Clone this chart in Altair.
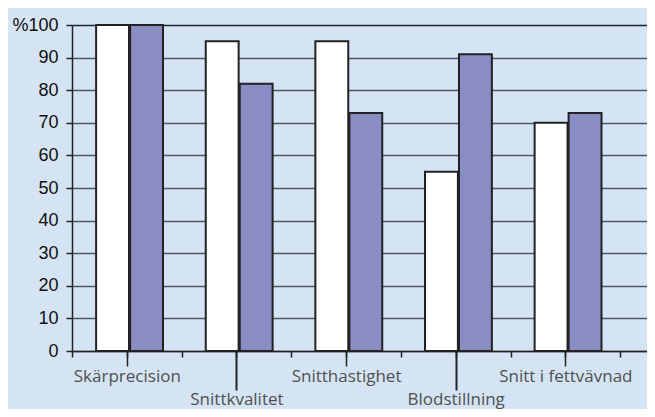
import altair as alt
import pandas as pd

categories = ["Skärprecision", "Snittkvalitet", "Snitthastighet", "Blodstillning", "Snitt i fettvävnad"]
series_white = [100, 95, 95, 55, 70]
series_purple = [100, 82, 73, 91, 73]
y_ticks = [0, 10, 20, 30, 40, 50, 60, 70, 80, 90, 100]
minor_ticks = [0, 1, 2, 3, 4, 5, 6, 7, 8, 9, 10]
upper_label_ticks = [1, 5, 9]
lower_label_ticks = [3, 7]

rows = []
for i, cat in enumerate(categories):
    rows.append({"cat": cat, "idx": i, "series": "A", "value": series_white[i]})
    rows.append({"cat": cat, "idx": i, "series": "B", "value": series_purple[i]})
df = pd.DataFrame(rows)

label_df = pd.DataFrame({"pos": [2 * i + 1 for i in range(len(categories))], "label": categories})

cat_js = "[" + ",".join("'" + c + "'" for c in categories) + "]"
label_expr = cat_js + "[(datum.value - 1) / 2]"

xscale = alt.Scale(domain=[0, 10.49], nice=False, zero=False)
dark = "#222222"
label_font = "Open Sans"
label_color = "#505050"

bars = alt.Chart(df).transform_calculate(
    center="2 * datum.idx + 1"
).transform_calculate(
    x0="datum.center + (datum.series == 'A' ? -0.56 : 0.06)",
    base="0"
).transform_calculate(
    x1="datum.x0 + 0.6"
).mark_bar(stroke=dark, strokeWidth=2).encode(
    x=alt.X("x0:Q", scale=xscale,
            axis=alt.Axis(orient="bottom", values=minor_ticks, labels=False, title=None,
                          grid=False, tickSize=6, tickColor=dark, tickWidth=1.5,
                          domainColor=dark, domainWidth=1.5)),
    x2="x1:Q",
    y=alt.Y("value:Q", scale=alt.Scale(domain=[0, 100], nice=False),
            axis=alt.Axis(values=y_ticks, title=None, tickSize=6, tickColor=dark, tickWidth=1.5,
                          domainColor=dark, domainWidth=1.5,
                          labelFont="Liberation Sans", labelFontSize=18, labelColor="#111111",
                          labelPadding=8,
                          labelExpr="datum.value == 100 ? '%100' : datum.label",
                          gridColor={"condition": {"test": "datum.value === 100", "value": "#1a2530"},
                                     "value": "#4e5862"},
                          gridWidth=1.5)),
    y2="base:Q",
    color=alt.Color("series:N", scale=alt.Scale(domain=["A", "B"], range=["#ffffff", "#8a8cc4"]),
                    legend=None),
)

upper = alt.Chart(label_df).mark_point(opacity=0).encode(
    x=alt.X("pos:Q", scale=xscale,
            axis=alt.Axis(orient="bottom", values=upper_label_ticks, title=None, grid=False,
                          domain=False, tickSize=15, tickColor=dark, tickWidth=1.5,
                          labelExpr=label_expr, labelFont=label_font, labelFontSize=17,
                          labelColor=label_color, labelPadding=2, labelOverlap=False,
                          labelBound=False, labelFlush=False))
)

lower = alt.Chart(label_df).mark_point(opacity=0).encode(
    x=alt.X("pos:Q", scale=xscale,
            axis=alt.Axis(orient="bottom", values=lower_label_ticks, title=None, grid=False,
                          domain=False, tickSize=39, tickColor=dark, tickWidth=2,
                          labelExpr=label_expr, labelFont=label_font, labelFontSize=17,
                          labelColor=label_color, labelPadding=1, labelOverlap=False,
                          labelBound=False, labelFlush=False))
)

chart = alt.layer(bars, upper, lower).resolve_axis(x="independent").properties(
    width=575,
    height=326,
    autosize=alt.AutoSizeParams(type="none"),
    padding={"left": 64, "top": 17, "right": 0, "bottom": 58},
    background="#d4e4f4",
).configure_view(stroke=None)

chart.save("out.html", embed_options={"renderer": "svg", "actions": False})
